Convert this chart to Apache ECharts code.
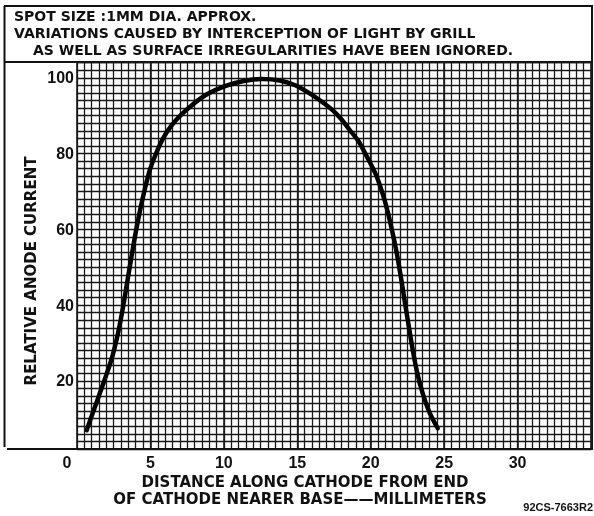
<!DOCTYPE html>
<html>
<head>
<meta charset="utf-8">
<style>
  html, body { margin: 0; padding: 0; background: #fff; }
  #chart { width: 594px; height: 516px; }
</style>
<script src="https://cdn.jsdelivr.net/npm/echarts@6/dist/echarts.min.js"></script>
</head>
<body>
<div id="chart"></div>
<script>
// ---- data ----
const distanceMM = [0.66, 1.09, 1.56, 1.97, 2.38, 2.72, 3.06, 3.40, 3.74, 4.08, 4.49, 4.96, 5.51, 6.12, 6.87, 7.82, 8.91, 10.13, 11.35, 12.58, 13.8, 14.9, 15.84, 16.6, 17.4, 18.0, 18.56, 19.15, 19.7, 20.37, 20.94, 21.35, 21.73, 22.03, 22.3, 22.58, 22.86, 23.18, 23.54, 24.0, 24.56];
const relativeCurrent = [7.3, 12.0, 17.1, 21.6, 26.4, 31.6, 38.2, 45.9, 53.8, 61.2, 68.8, 76.0, 81.5, 86.0, 89.7, 93.1, 96.1, 98.2, 99.5, 100.0, 99.6, 98.3, 96.2, 94.2, 91.8, 89.4, 86.6, 83.7, 79.8, 74.6, 68.1, 61.8, 54.9, 48.3, 41.7, 35.0, 28.5, 22.2, 17.0, 12.0, 7.8];
const xTickLabels = [0, 5, 10, 15, 20, 25, 30];
const yTickLabels = [20, 40, 60, 80, 100];
const headerLines = [
  'SPOT SIZE :1MM DIA. APPROX.',
  'VARIATIONS CAUSED BY INTERCEPTION OF LIGHT BY GRILL',
  'AS WELL AS SURFACE IRREGULARITIES HAVE BEEN IGNORED.'
];
const yName = 'RELATIVE ANODE CURRENT';
const xNameLines = ['DISTANCE ALONG CATHODE FROM END', 'OF CATHODE NEARER BASE\u2014\u2014MILLIMETERS'];
const figCode = '92CS-7663R2';

// ---- chart ----
const FONT = '"DejaVu Sans", "Liberation Sans", Arial, sans-serif';
const NUMFONT = '"Liberation Sans", Arial, sans-serif';
const INK = '#111';
const X_MIN = 0, X_MAX = 35;
const Y_MIN = 2.32, Y_MAX = 104.5;

const chart = echarts.init(document.getElementById('chart'), null, { renderer: 'canvas' });

const gridLine = (w) => ({ show: true, lineStyle: { color: '#1a1a1a', width: w, type: 'solid' } });

const option = {
  backgroundColor: '#fff',
  animation: false,
  grid: { left: 77, right: 2, top: 62, bottom: 67, containLabel: false },
  xAxis: [
    {
      type: 'value', min: X_MIN, max: X_MAX, interval: 5,
      axisLine: { show: true, lineStyle: { color: INK, width: 2 } },
      axisTick: { show: false },
      splitLine: gridLine(1.6),
      axisLabel: {
        margin: 7,
        color: INK, fontFamily: NUMFONT, fontWeight: 'bold', fontSize: 16,
        formatter: (v) => (xTickLabels.indexOf(v) < 0 ? '' : (v === 0 ? '{z|0}' : String(v))),
        rich: { z: { fontFamily: NUMFONT, fontWeight: 'bold', fontSize: 16, color: INK, padding: [0, 20, 0, 0] } }
      }
    },
    {
      type: 'value', min: X_MIN, max: X_MAX, interval: 0.5,
      axisLine: { show: false }, axisTick: { show: false }, axisLabel: { show: false },
      splitLine: gridLine(1.3)
    }
  ],
  yAxis: [
    {
      type: 'value', min: Y_MIN, max: Y_MAX,
      axisLine: { show: false }, axisTick: { show: false },
      splitLine: { show: false },
      axisLabel: {
        customValues: yTickLabels,
        margin: 3,
        color: INK, fontFamily: NUMFONT, fontWeight: 'bold', fontSize: 16
      }
    },
    {
      type: 'value', min: Y_MIN, max: Y_MAX, interval: 2,
      axisLine: { show: false }, axisTick: { show: false }, axisLabel: { show: false },
      splitLine: gridLine(1.3)
    }
  ],
  series: [
    {
      type: 'line',
      xAxisIndex: 0, yAxisIndex: 0,
      data: distanceMM.map((d, i) => [d, relativeCurrent[i]]),
      smooth: 0.3,
      symbol: 'none',
      lineStyle: { color: '#000', width: 4.5, cap: 'round', join: 'round' },
      z: 10
    }
  ],
  graphic: [
    // frame
    { type: 'line', shape: { x1: 4, y1: 6, x2: 593, y2: 6 }, style: { stroke: INK, lineWidth: 2 } },
    { type: 'line', shape: { x1: 4.5, y1: 6, x2: 4.5, y2: 447 }, style: { stroke: INK, lineWidth: 2 } },
    { type: 'line', shape: { x1: 592, y1: 6, x2: 592, y2: 449 }, style: { stroke: INK, lineWidth: 2 } },
    { type: 'line', shape: { x1: 4, y1: 62, x2: 593, y2: 62 }, style: { stroke: INK, lineWidth: 2 } },
    { type: 'line', shape: { x1: 7, y1: 449, x2: 593, y2: 449 }, style: { stroke: INK, lineWidth: 2 } },
    // header
    { type: 'text', left: 14, top: 10, style: { text: headerLines[0], fill: INK, font: 'bold 14px ' + FONT } },
    { type: 'text', left: 14, top: 27, style: { text: headerLines[1], fill: INK, font: 'bold 14px ' + FONT } },
    { type: 'text', left: 33, top: 44, style: { text: headerLines[2], fill: INK, font: 'bold 14px ' + FONT } },
    // y axis name
    { type: 'text', x: 32, y: 271, rotation: Math.PI / 2,
      style: { text: yName, fill: INK, font: 'bold 15px ' + FONT, align: 'center', verticalAlign: 'middle' } },
    // x axis name
    { type: 'text', x: 305, y: 483, style: { text: xNameLines[0], fill: INK, font: 'bold 15px ' + FONT, align: 'center', verticalAlign: 'middle' } },
    { type: 'text', x: 300, y: 500, style: { text: xNameLines[1], fill: INK, font: 'bold 15px ' + FONT, align: 'center', verticalAlign: 'middle' } },
    // figure code
    { type: 'text', right: 1, top: 502, style: { text: figCode, fill: INK, font: 'bold 11px ' + NUMFONT } }
  ]
};
chart.setOption(option);
</script>
</body>
</html>
